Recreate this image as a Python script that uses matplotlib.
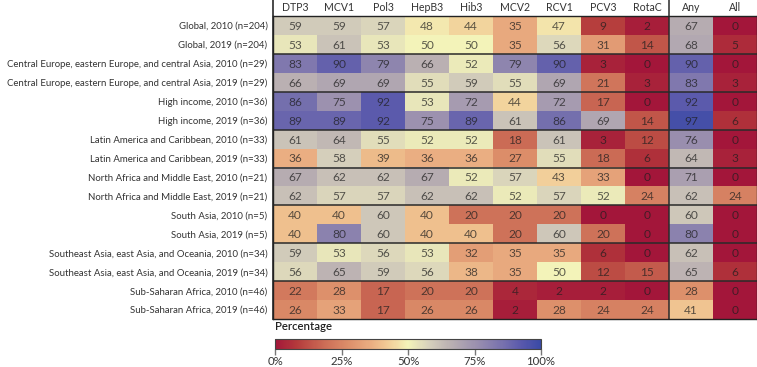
import matplotlib
matplotlib.use("Agg")
import matplotlib.pyplot as plt
import numpy as np
from matplotlib.colors import LinearSegmentedColormap

plt.rcParams['font.family'] = ['Lato', 'DejaVu Sans']

vaccines = ["DTP3", "MCV1", "Pol3", "HepB3", "Hib3", "MCV2", "RCV1", "PCV3", "RotaC", "Any", "All"]

row_labels = [
	"Global, 2010 (n=204)",
	"Global, 2019 (n=204)",
	"Central Europe, eastern Europe, and central Asia, 2010 (n=29)",
	"Central Europe, eastern Europe, and central Asia, 2019 (n=29)",
	"High income, 2010 (n=36)",
	"High income, 2019 (n=36)",
	"Latin America and Caribbean, 2010 (n=33)",
	"Latin America and Caribbean, 2019 (n=33)",
	"North Africa and Middle East, 2010 (n=21)",
	"North Africa and Middle East, 2019 (n=21)",
	"South Asia, 2010 (n=5)",
	"South Asia, 2019 (n=5)",
	"Southeast Asia, east Asia, and Oceania, 2010 (n=34)",
	"Southeast Asia, east Asia, and Oceania, 2019 (n=34)",
	"Sub-Saharan Africa, 2010 (n=46)",
	"Sub-Saharan Africa, 2019 (n=46)",
]

# percentage of countries, one row per region/year
values = [
	[59, 59, 57, 48, 44, 35, 47, 9, 2, 67, 0],
	[53, 61, 53, 50, 50, 35, 56, 31, 14, 68, 5],
	[83, 90, 79, 66, 52, 79, 90, 3, 0, 90, 0],
	[66, 69, 69, 55, 59, 55, 69, 21, 3, 83, 3],
	[86, 75, 92, 53, 72, 44, 72, 17, 0, 92, 0],
	[89, 89, 92, 75, 89, 61, 86, 69, 14, 97, 6],
	[61, 64, 55, 52, 52, 18, 61, 3, 12, 76, 0],
	[36, 58, 39, 36, 36, 27, 55, 18, 6, 64, 3],
	[67, 62, 62, 67, 52, 57, 43, 33, 0, 71, 0],
	[62, 57, 57, 62, 62, 52, 57, 52, 24, 62, 24],
	[40, 40, 60, 40, 20, 20, 20, 0, 0, 60, 0],
	[40, 80, 60, 40, 40, 20, 60, 20, 0, 80, 0],
	[59, 53, 56, 53, 32, 35, 35, 6, 0, 62, 0],
	[56, 65, 59, 56, 38, 35, 50, 12, 15, 65, 6],
	[22, 28, 17, 20, 20, 4, 2, 2, 0, 28, 0],
	[26, 33, 17, 26, 26, 2, 28, 24, 24, 41, 0],
]

cbar_ticks = [0, 25, 50, 75, 100]

# custom diverging palette
cmap = LinearSegmentedColormap.from_list("cov", [
	(0.00, "#a3163a"),
	(0.08, "#b43a3b"),
	(0.18, "#cb6b55"),
	(0.27, "#dc8d69"),
	(0.36, "#eaae82"),
	(0.42, "#f2ca95"),
	(0.50, "#f4f4b9"),
	(0.58, "#d6d0bc"),
	(0.66, "#bab0b2"),
	(0.76, "#9a8faf"),
	(0.86, "#7670ae"),
	(0.93, "#5858ac"),
	(1.00, "#3a4aa6"),
])

W, H = 757, 367
fig = plt.figure(figsize=(W / 100, H / 100), dpi=100)

hm_top, hm_bot = 16, 319
ax = fig.add_axes([273 / W, 1 - hm_bot / H, (757 - 273) / W, (hm_bot - hm_top) / H])
data = np.array(values)
im = ax.imshow(data, cmap=cmap, vmin=0, vmax=100, aspect='auto', interpolation='nearest')

nr, nc = data.shape
for i in range(nr):
	for j in range(nc):
		ax.text(j, i + 0.05, str(data[i, j]), ha='center', va='center',
				fontsize=8.6, color='#1e1e1e', alpha=0.72)

ax.set_xticks(range(nc))
ax.set_xticklabels(vaccines, fontsize=7.6, color='#333333')
ax.xaxis.tick_top()
ax.set_yticks(range(nr))
ylabs = ax.set_yticklabels(row_labels, fontsize=8, color='#333333')
ax.tick_params(length=0, pad=4)
ax.tick_params(axis='x', pad=2)

# shrink row labels so the longest one fits left of the grid
fig.canvas.draw()
renderer = fig.canvas.get_renderer()
widest = max(t.get_window_extent(renderer).width for t in ylabs)
fs = 8 * 264 / widest
for t in ylabs:
	t.set_fontsize(fs)

for sp in ax.spines.values():
	sp.set_color('#222222')
	sp.set_linewidth(1.0)

# group separators
for k in range(2, nr, 2):
	ax.axhline(k - 0.5, color='#2a2a2a', lw=1.1)
ext = 1 + hm_top / (hm_bot - hm_top)
ax.axvline(8.5, ymin=0, ymax=ext, color='#2a2a2a', lw=1.1, clip_on=False)
ax.axvline(-0.5, ymin=0, ymax=ext, color='#2a2a2a', lw=1.2, clip_on=False)

# colour bar
cax = fig.add_axes([275 / W, 1 - 349 / H, 266 / W, 10 / H])
cb = fig.colorbar(im, cax=cax, orientation='horizontal', ticks=cbar_ticks)
cb.ax.set_xticklabels([f"{t}%" for t in cbar_ticks], fontsize=8.2, color='#333333')
cb.ax.tick_params(length=4, width=1, color='#777777', pad=1)
cb.outline.set_edgecolor('#444444')
cb.outline.set_linewidth(0.8)
fig.text(275 / W, 1 - 327 / H, "Percentage", fontsize=8.2, color='#222222',
		 ha='left', va='center', fontweight='semibold')

fig.savefig("out.png", dpi=100)
